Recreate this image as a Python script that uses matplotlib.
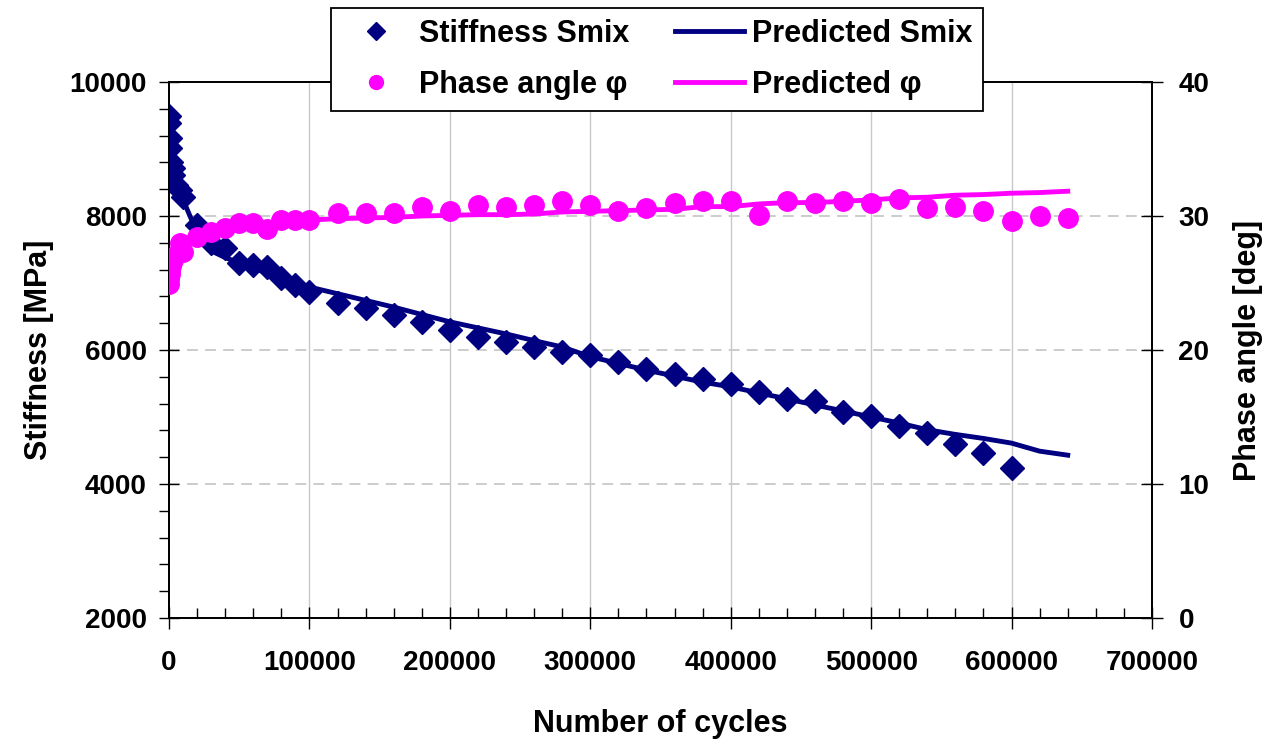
import numpy as np
import matplotlib
matplotlib.use('Agg')
import matplotlib.pyplot as plt
from matplotlib.ticker import MultipleLocator
from matplotlib.lines import Line2D

plt.rcParams['font.family'] = ['Liberation Sans', 'DejaVu Sans']
plt.rcParams['font.weight'] = 'bold'

# Stiffness measurements [MPa]
stiff_cycles = [0, 200, 500, 1000, 1500, 2500, 3000, 5000, 7500, 10000,
                20000, 30000, 40000, 50000, 60000, 70000, 80000, 90000, 100000,
                120000, 140000, 160000, 180000, 200000, 220000, 240000, 260000,
                280000, 300000, 320000, 340000, 360000, 380000, 400000, 420000,
                440000, 460000, 480000, 500000, 520000, 540000, 560000, 580000,
                600000]
stiffness = [9500, 9390, 9160, 9010, 8800, 8710, 8610, 8460, 8390, 8280,
             7860, 7600, 7520, 7300, 7270, 7240, 7075, 6970, 6870,
             6700, 6630, 6520, 6420, 6300, 6195, 6120, 6045,
             5975, 5925, 5820, 5715, 5640, 5565, 5490, 5375,
             5270, 5240, 5075, 5015, 4865, 4760, 4600, 4460,
             4240]

# Phase angle measurements [deg]
phase_cycles = [0, 300, 700, 1000, 1500, 2500, 5000, 7500, 10000,
                20000, 30000, 40000, 50000, 60000, 70000, 80000, 90000, 100000,
                120000, 140000, 160000, 180000, 200000, 220000, 240000, 260000,
                280000, 300000, 320000, 340000, 360000, 380000, 400000, 420000,
                440000, 460000, 480000, 500000, 520000, 540000, 560000, 580000,
                600000, 620000, 640000]
phase = [24.9, 25.3, 25.7, 26.0, 26.3, 26.7, 27.1, 28.0, 27.3,
         28.4, 28.8, 29.1, 29.5, 29.5, 29.0, 29.7, 29.7, 29.7,
         30.2, 30.2, 30.2, 30.7, 30.4, 30.8, 30.7, 30.8,
         31.1, 30.8, 30.4, 30.6, 31.0, 31.1, 31.1, 30.1,
         31.1, 31.0, 31.1, 31.0, 31.3, 30.6, 30.7, 30.4,
         29.6, 30.0, 29.85]

# Model predictions
pred_cycles = [0, 1000, 5000, 10000, 17000, 28000, 40000, 50000, 60000, 70000,
               80000, 90000, 100000, 120000, 140000, 160000, 180000, 200000,
               220000, 240000, 260000, 280000, 300000, 320000, 340000, 360000,
               380000, 400000, 420000, 440000, 460000, 480000, 500000, 520000,
               540000, 560000, 580000, 600000, 620000, 640000]
pred_stiffness = [9300, 8600, 8350, 8240, 7900, 7500, 7380, 7300, 7220, 7150,
                  7075, 7000, 6940, 6840, 6740, 6640, 6530, 6420,
                  6330, 6240, 6140, 6045, 5900, 5800, 5700, 5610,
                  5520, 5450, 5360, 5270, 5180, 5090, 5000, 4910,
                  4810, 4740, 4680, 4610, 4490, 4430]
pred_phase = [25.0, 26.0, 27.0, 27.8, 28.3, 29.0, 29.2, 29.4, 29.5, 29.5,
              29.6, 29.7, 29.7, 29.8, 29.85, 29.9, 30.0, 30.05,
              30.1, 30.1, 30.15, 30.3, 30.35, 30.4, 30.45, 30.5,
              30.7, 30.7, 30.9, 31.0, 31.0, 31.1, 31.2, 31.35,
              31.4, 31.55, 31.6, 31.7, 31.75, 31.85]

navy = '#000080'
magenta = '#ff00ff'

fig = plt.figure(figsize=(12.66, 7.41), dpi=100)
ax = fig.add_axes([169 / 1266, 123 / 741, 983 / 1266, 536 / 741])
ax2 = ax.twinx()

ax.plot(pred_cycles, pred_stiffness, color=navy, lw=3.5, zorder=3)
ax.plot(stiff_cycles, stiffness, 'D', color=navy, ms=12, mec=navy, zorder=4)
ax2.plot(pred_cycles, pred_phase, color=magenta, lw=3.5, zorder=3)
ax2.plot(phase_cycles, phase, 'o', color=magenta, ms=14, zorder=4)

ax.set_xlim(0, 700000)
ax.set_ylim(2000, 10000)
ax2.set_ylim(0, 40)

ax.xaxis.set_major_locator(MultipleLocator(100000))
ax.xaxis.set_minor_locator(MultipleLocator(20000))
ax.yaxis.set_major_locator(MultipleLocator(2000))
ax.yaxis.set_minor_locator(MultipleLocator(400))
ax2.yaxis.set_major_locator(MultipleLocator(10))

# grid: solid vertical, dashed horizontal
for xv in range(100000, 700000, 100000):
    ax.axvline(xv, color='#c8c8c8', lw=1, zorder=1)
for yv in [4000, 6000, 8000]:
    ax.axhline(yv, color='#c8c8c8', lw=1.3, ls=(0, (6, 4)), zorder=1)

ax.tick_params(axis='x', which='major', direction='inout', length=16, width=1,
               pad=15, labelsize=20)
ax.tick_params(axis='x', which='minor', direction='in', length=7, width=1)
ax.tick_params(axis='y', which='major', direction='inout', length=14, width=1,
               pad=9, labelsize=20)
ax.tick_params(axis='y', which='minor', direction='out', length=7, width=1)
ax2.tick_params(axis='y', which='major', direction='inout', length=16, width=1,
                pad=11, labelsize=20)

for sp in ax.spines.values():
    sp.set_linewidth(1.3)
for sp in ax2.spines.values():
    sp.set_linewidth(1.3)

ax.set_xlabel('Number of cycles', fontsize=22, fontweight='bold', labelpad=24)
ax.set_ylabel('Stiffness [MPa]', fontsize=22, fontweight='bold', labelpad=11)
ax2.set_ylabel('Phase angle [deg]', fontsize=22, fontweight='bold', labelpad=17)

handles = [
    Line2D([], [], ls='none', marker='D', color=navy, ms=9),
    Line2D([], [], ls='none', marker='o', color=magenta, ms=10),
    Line2D([], [], color=navy, lw=3.5),
    Line2D([], [], color=magenta, lw=3.5),
]
labels = ['Stiffness Smix', 'Phase angle \u03c6', 'Predicted Smix', 'Predicted \u03c6']
leg = ax2.legend(handles, labels, ncol=2, loc='upper center',
                 bbox_to_anchor=(657 / 1266, 1 - 8 / 741), bbox_transform=fig.transFigure,
                 borderaxespad=0,
                 fontsize=22, frameon=True, fancybox=False, framealpha=1,
                 edgecolor='black', handlelength=2.25, handletextpad=0.26,
                 columnspacing=1.5, labelspacing=0.7, borderpad=0.35)
leg.get_frame().set_linewidth(1.3)
leg.set_zorder(10)

fig.savefig('out.png', dpi=100)
